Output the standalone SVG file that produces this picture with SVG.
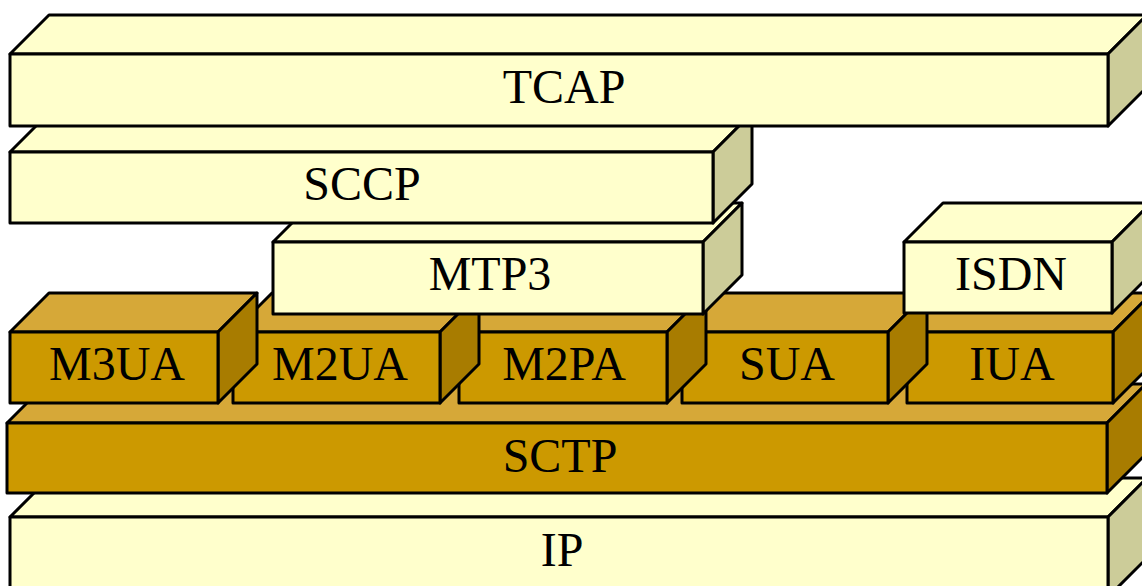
<svg xmlns="http://www.w3.org/2000/svg" width="1142" height="586" viewBox="0 0 1142 586">
<style>
.l .t{fill:#FFFFCC}
.l .f{fill:#FFFFCC}
.l .s{fill:#CCCC99}
.g .t{fill:#D6A838}
.g .f{fill:#CC9900}
.g .s{fill:#A87C00}
.t,.s,.f{stroke:#000;stroke-width:3;stroke-linejoin:round}
text{font-family:"Liberation Serif","Times New Roman",serif;font-size:48px;fill:#000;text-anchor:middle}
</style>
<rect x="0" y="0" width="1142" height="586" fill="#fff"/>
<g id="IP" class="l">
<polygon class="t" points="10,517 49,478 1147,478 1108,517"/>
<polygon class="s" points="1108,517 1147,478 1147,558 1108,597"/>
<rect class="f" x="10" y="517" width="1098" height="80"/>
<text x="562" y="566">IP</text>
</g>
<g id="SCTP" class="g">
<polygon class="t" points="7,423 46,384 1146,384 1107,423"/>
<polygon class="s" points="1107,423 1146,384 1146,454 1107,493"/>
<rect class="f" x="7" y="423" width="1100" height="70"/>
<text x="560" y="472">SCTP</text>
</g>
<g id="IUA" class="g">
<polygon class="t" points="907,332 946,293 1152,293 1113,332"/>
<polygon class="s" points="1113,332 1152,293 1152,364 1113,403"/>
<rect class="f" x="907" y="332" width="206" height="71"/>
<text x="1012" y="380">IUA</text>
</g>
<g id="SUA" class="g">
<polygon class="t" points="682,332 721,293 927,293 888,332"/>
<polygon class="s" points="888,332 927,293 927,364 888,403"/>
<rect class="f" x="682" y="332" width="206" height="71"/>
<text x="787" y="380">SUA</text>
</g>
<g id="M2PA" class="g">
<polygon class="t" points="459,332 498,293 706,293 667,332"/>
<polygon class="s" points="667,332 706,293 706,364 667,403"/>
<rect class="f" x="459" y="332" width="208" height="71"/>
<text x="564" y="380">M2PA</text>
</g>
<g id="M2UA" class="g">
<polygon class="t" points="233,332 272,293 479,293 440,332"/>
<polygon class="s" points="440,332 479,293 479,364 440,403"/>
<rect class="f" x="233" y="332" width="207" height="71"/>
<text x="340" y="380">M2UA</text>
</g>
<g id="M3UA" class="g">
<polygon class="t" points="10,332 49,293 257,293 218,332"/>
<polygon class="s" points="218,332 257,293 257,364 218,403"/>
<rect class="f" x="10" y="332" width="208" height="71"/>
<text x="117" y="380">M3UA</text>
</g>
<g id="ISDN" class="l">
<polygon class="t" points="904,242 943,203 1151,203 1112,242"/>
<polygon class="s" points="1112,242 1151,203 1151,274 1112,313"/>
<rect class="f" x="904" y="242" width="208" height="71"/>
<text x="1011" y="290">ISDN</text>
</g>
<g id="MTP3" class="l">
<polygon class="t" points="273,242 312,203 742,203 703,242"/>
<polygon class="s" points="703,242 742,203 742,275 703,314"/>
<rect class="f" x="273" y="242" width="430" height="72"/>
<text x="490" y="290">MTP3</text>
</g>
<g id="SCCP" class="l">
<polygon class="t" points="10,152 49,113 752,113 713,152"/>
<polygon class="s" points="713,152 752,113 752,184 713,223"/>
<rect class="f" x="10" y="152" width="703" height="71"/>
<text x="362" y="200">SCCP</text>
</g>
<g id="TCAP" class="l">
<polygon class="t" points="10,54 49,15 1147,15 1108,54"/>
<polygon class="s" points="1108,54 1147,15 1147,87 1108,126"/>
<rect class="f" x="10" y="54" width="1098" height="72"/>
<text x="564" y="103">TCAP</text>
</g>
<g id="connectors"></g>
</svg>
